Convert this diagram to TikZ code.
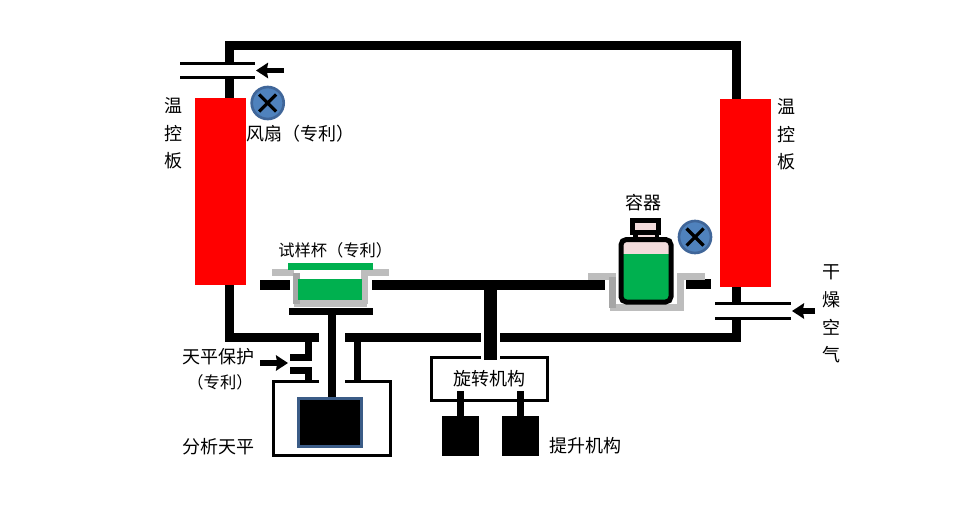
\documentclass[tikz,border=0pt]{standalone}
\usepackage{fontspec}
\setmainfont{Noto Sans CJK SC}
\usetikzlibrary{positioning}
\usetikzlibrary{arrows.meta}
\definecolor{heater}{rgb}{1,0,0}
\definecolor{cupgray}{rgb}{0.74,0.74,0.74}
\definecolor{walldark}{rgb}{0.65,0.65,0.65}
\definecolor{liquid}{rgb}{0,0.69,0.31}
\definecolor{bottlepink}{rgb}{0.95,0.86,0.86}
\definecolor{fanblue}{rgb}{0.31,0.51,0.74}
\definecolor{fanedge}{rgb}{0.25,0.40,0.60}
\definecolor{scaleedge}{rgb}{0.23,0.36,0.53}

\begin{document}
\begin{tikzpicture}[
            x = 0.75pt,
            y = -0.75pt,
            node distance = 20.6pt, % distance between label characters
            pipe/.style = {fill = black},
            plate/.style = {fill = heater},
            rim/.style = {fill = cupgray},
            wall/.style = {fill = walldark},
            pane/.style = {line width = 2.25pt, line cap = rect},
            flow/.style = {-{Stealth[length = 9pt, width = 11.5pt, inset = 1pt]}, line width = 3.9pt},
            label/.style = {font = \fontsize{13.5}{15}\selectfont, inner sep = 0pt},
            cuplabel/.style = {font = \fontsize{12.2}{14}\selectfont, inner sep = 0pt},
            fan/.style = {circle, draw = fanedge, fill = fanblue, line width = 2pt, minimum size = 24pt, inner sep = 0pt}
        ]

        \useasboundingbox (0,0) rectangle (968,522);

	% frame of the chamber
        \fill[pipe] (225,41) rectangle (741,50);
        \fill[pipe] (225,41) rectangle (234,98);
        \fill[pipe] (732,41) rectangle (741,99);
        \fill[pipe] (225,285) rectangle (234,342);
        \fill[pipe] (732,287) rectangle (741,342);
        \fill[pipe] (225,333) rectangle (319,342);
        \fill[pipe] (345,333) rectangle (481,342);
        \fill[pipe] (500,333) rectangle (741,342);

        % air inlets
        \fill[white] (215,64) rectangle (245,77);
        \fill[white] (725,304) rectangle (750,318);
        \draw[pane] (181,63.5) -- (253,63.5);
        \draw[pane] (181,77.5) -- (253,77.5);
        \draw[pane] (716,303) -- (789,303);
        \draw[pane] (716,318) -- (789,318);

        \coordinate (FanIn) at (284,70.5);
        \coordinate (FanOut) at (256,70.5);
        \coordinate (DryIn) at (815,311);
        \coordinate (DryOut) at (792,311);
        \coordinate (GuardIn) at (260,363);
        \coordinate (GuardOut) at (288,363);
        \path[flow] (FanIn) edge (FanOut);
        \path[flow] (DryIn) edge (DryOut);
        \path[flow] (GuardIn) edge (GuardOut);

        % heaters
        \fill[plate] (195,98) rectangle (246,285);
        \fill[plate] (720,99) rectangle (771,287);

        % fans
        \node[fan] (FanA) at (267.7,103) {};
        \node[fan] (FanB) at (695,237) {};
        \foreach \f in {FanA,FanB} {
            \draw[line width = 2.4pt] (\f.center) +(-8.5,-8.5) -- +(8.5,8.5);
            \draw[line width = 2.4pt] (\f.center) +(-8.5,8.5) -- +(8.5,-8.5);
        }

        % turntable arm
        \fill[pipe] (260,280) rectangle (290,290);
        \fill[pipe] (372,280) rectangle (605,290);
        \fill[pipe] (686,279) rectangle (711,289);
        \fill[pipe] (484,280) rectangle (497,360);

        % sample cup
        \fill[rim] (272,269) rectangle (294,276);
        \fill[rim] (361,269) rectangle (389,276);
        \fill[rim] (294,300) rectangle (367,307);
        \fill[rim] (361,272) rectangle (368,304);
        \fill[wall] (293,273) rectangle (300,304);
        \fill[liquid] (298,279) rectangle (362,300);
        \fill[liquid] (288,263) rectangle (373,270);

        % container
        \fill[rim] (588,273) rectangle (616,280);
        \fill[rim] (677,273) rectangle (705,280);
        \fill[rim] (610,304) rectangle (684,311);
        \fill[rim] (677,277) rectangle (684,308);
        \fill[wall] (609,277) rectangle (616,308);
        \fill[pipe] (633,232) rectangle (659,240);
        \fill[bottlepink] (638,233) rectangle (655,238);
        \draw[line width = 3.75pt, fill = bottlepink] (632.5,220.5) rectangle (658.5,232.5);
        \fill[bottlepink] (621,240) rectangle (671,254);
        \fill[liquid] (621,254) rectangle (671,302);
        \draw[line width = 3.75pt, rounded corners = 4pt] (621,239.5) rectangle (671,302);

        % balance with its guard
        \fill[pipe] (289,308) rectangle (373,315);
        \fill[pipe] (328,315) rectangle (336,400);
        \fill[pipe] (305,342) rectangle (312,361);
        \fill[pipe] (290,354) rectangle (311,361);
        \fill[pipe] (290,367) rectangle (311,374);
        \fill[pipe] (305,367) rectangle (312,381);
        \fill[pipe] (354,342) rectangle (361,381);
        \draw[line width = 2.25pt] (319,381.5) -- (273.5,381.5) -- (273.5,455) -- (390.5,455) -- (390.5,381.5) -- (345,381.5);
        \draw[draw = scaleedge, fill = black, line width = 2.25pt] (298.5,398.5) rectangle (361.5,446);

        % rotation and lift
        \draw[line width = 2.25pt] (481,357.5) -- (431.5,357.5) -- (431.5,400.5) -- (547.5,400.5) -- (547.5,357.5) -- (500,357.5);
        \fill[pipe] (457,391) rectangle (464,416);
        \fill[pipe] (517,391) rectangle (524,416);
        \fill[pipe] (442,416) rectangle (479,456);
        \fill[pipe] (502,416) rectangle (539,456);

        % left labels
        \node[label] (PlateA) at (173,106) {温};
        \node[label] (PlateB) [below of=PlateA] {控};
        \node[label] (PlateC) [below of=PlateB] {板};
        \node[label, anchor=west] (FanText) at (246,134) {风扇（专利）};
        \node[cuplabel, anchor=west] (CupText) at (278,250) {试样杯（专利）};
        \node[label] (GuardText) at (218,357) {天平保护};
        \node[cuplabel] (GuardNote) at (220,382.5) {（专利）};
        \node[label] (ScaleText) at (218,447) {分析天平};

        % right labels
        \node[label] (HeatA) at (786,107) {温};
        \node[label] (HeatB) [below of=HeatA] {控};
        \node[label] (HeatC) [below of=HeatB] {板};
        \node[label] (BottleText) at (643,203) {容器};
        \node[label] (DryA) at (831,272) {干};
        \node[label] (DryB) [below of=DryA] {燥};
        \node[label] (DryC) [below of=DryB] {空};
        \node[label] (DryD) [below of=DryC] {气};
        \node[label] (TurnText) at (489,379) {旋转机构};
        \node[label] (LiftText) at (585,446) {提升机构};

\end{tikzpicture}
\end{document}
